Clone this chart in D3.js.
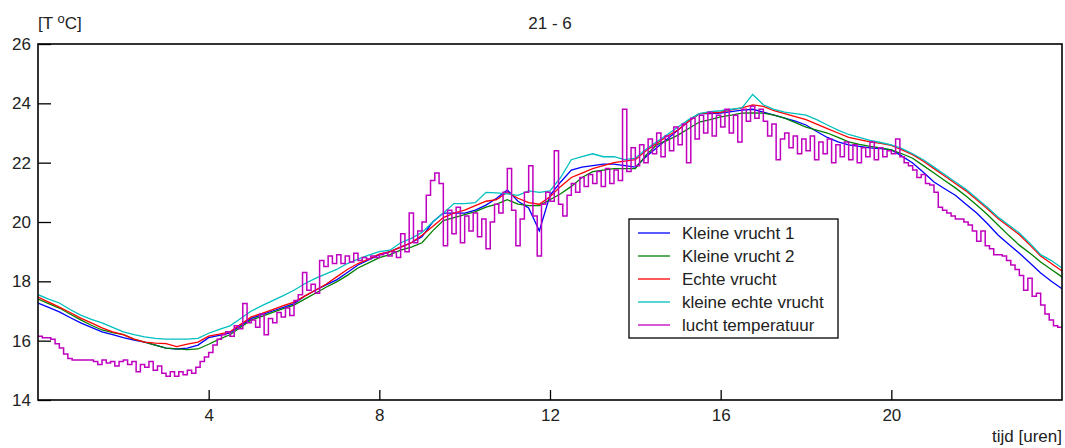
<!DOCTYPE html>
<html>
<head>
<meta charset="utf-8">
<script src="https://cdn.jsdelivr.net/npm/d3@7"></script>
<style>
  body { margin: 0; background: #fff; }
  svg text { font-family: "Liberation Sans", Arial, sans-serif; fill: #222; }
</style>
</head>
<body>
<svg id="chart" width="1065" height="448"></svg>
<script>
// Temperatures per quarter hour (0 .. 24 h)
const kleineVrucht1 = [
  17.27, 17.12, 16.97, 16.78, 16.6, 16.45, 16.3, 16.2, 16.1, 16.02, 15.95, 15.85, 15.75, 15.72, 15.75, 15.85,
  16.1, 16.18, 16.26, 16.5, 16.75, 16.88, 17.0, 17.12, 17.25, 17.5, 17.7, 17.88, 18.05, 18.3, 18.55, 18.72,
  18.9, 19.0, 19.15, 19.3, 19.5, 20.0, 20.3, 20.3, 20.3, 20.4, 20.57, 20.8, 21.08, 20.7, 20.47, 19.7,
  20.9, 21.35, 21.75, 21.85, 21.9, 21.95, 21.95, 21.9, 21.85, 22.2, 22.5, 22.8, 23.1, 23.4, 23.65, 23.65,
  23.67, 23.72, 23.77, 23.8, 23.7, 23.6, 23.5, 23.4, 23.27, 23.05, 22.85, 22.7, 22.6, 22.55, 22.5, 22.47,
  22.43, 22.22, 21.99, 21.68, 21.35, 21.12, 20.9, 20.6, 20.3, 19.95, 19.56, 19.25, 18.95, 18.62, 18.28, 18.0,
  17.75
];
const kleineVrucht2 = [
  17.4, 17.25, 17.1, 16.9, 16.7, 16.52, 16.36, 16.27, 16.2, 16.05, 15.95, 15.85, 15.75, 15.72, 15.7, 15.72,
  15.88, 16.05, 16.2, 16.45, 16.7, 16.82, 16.95, 17.08, 17.2, 17.4, 17.6, 17.8, 17.98, 18.2, 18.45, 18.62,
  18.8, 18.9, 19.05, 19.15, 19.3, 19.7, 20.05, 20.15, 20.25, 20.35, 20.5, 20.6, 20.75, 20.6, 20.55, 20.55,
  20.75, 20.95, 21.2, 21.5, 21.7, 21.75, 21.8, 21.8, 21.8, 22.25, 22.6, 22.75, 22.93, 23.15, 23.37, 23.45,
  23.54, 23.6, 23.67, 23.68, 23.67, 23.6, 23.5, 23.35, 23.2, 23.1, 23.0, 22.85, 22.7, 22.62, 22.55, 22.5,
  22.43, 22.3, 22.15, 21.9, 21.65, 21.4, 21.15, 20.88, 20.57, 20.25, 19.9, 19.55, 19.22, 18.95, 18.65, 18.4,
  18.15
];
const echteVrucht = [
  17.47, 17.3, 17.13, 16.95, 16.76, 16.6, 16.43, 16.3, 16.2, 16.05, 15.95, 15.92, 15.9, 15.8, 15.88, 15.95,
  16.15, 16.22, 16.3, 16.55, 16.8, 16.92, 17.05, 17.18, 17.3, 17.5, 17.7, 17.9, 18.15, 18.4, 18.6, 18.75,
  18.92, 19.0, 19.15, 19.3, 19.55, 19.85, 20.15, 20.3, 20.4, 20.55, 20.7, 20.75, 21.0, 20.8, 20.65, 20.6,
  20.85, 21.2, 21.5, 21.65, 21.8, 21.9, 22.0, 22.05, 22.1, 22.4, 22.65, 22.9, 23.1, 23.4, 23.65, 23.68,
  23.7, 23.78, 23.85, 23.95, 23.9, 23.75, 23.65, 23.55, 23.45, 23.3, 23.15, 23.0, 22.85, 22.78, 22.7, 22.65,
  22.58, 22.43, 22.27, 22.05, 21.8, 21.55, 21.3, 21.05, 20.75, 20.45, 20.12, 19.85, 19.57, 19.22, 18.85, 18.6,
  18.35
];
const kleineEchteVrucht = [
  17.55, 17.4, 17.27, 17.05, 16.86, 16.72, 16.6, 16.45, 16.3, 16.2, 16.13, 16.08, 16.05, 16.05, 16.05, 16.08,
  16.25, 16.38, 16.5, 16.75, 17.0, 17.18, 17.35, 17.52, 17.7, 17.92, 18.1, 18.25, 18.4, 18.6, 18.75, 18.88,
  19.0, 19.05, 19.3, 19.45, 19.65, 20.0, 20.3, 20.62, 20.62, 20.65, 21.0, 20.98, 20.95, 20.9, 21.05, 21.0,
  21.05, 21.5, 22.1, 22.2, 22.3, 22.2, 22.2, 22.1, 22.15, 22.45, 22.7, 22.95, 23.2, 23.45, 23.65, 23.72,
  23.75, 23.8, 23.85, 24.3, 23.95, 23.8, 23.7, 23.65, 23.6, 23.45, 23.27, 23.1, 22.95, 22.85, 22.75, 22.68,
  22.6, 22.47, 22.3, 22.1, 21.85, 21.6, 21.35, 21.1, 20.8, 20.5, 20.17, 19.9, 19.63, 19.28, 18.9, 18.7,
  18.45
];
// Air temperature every 6 minutes (0 .. 24 h)
const luchtTemperatuur = [
  16.15, 16.1, 16.1, 16.05, 15.9, 15.75, 15.55, 15.4, 15.35, 15.35,
  15.35, 15.35, 15.35, 15.3, 15.2, 15.35, 15.25, 15.3, 15.15, 15.3,
  15.35, 15.2, 15.3, 14.95, 15.2, 15.1, 15.3, 15.0, 15.15, 14.9,
  14.8, 14.95, 14.8, 14.95, 14.85, 15.0, 14.9, 15.1, 15.3, 15.45,
  15.6, 15.85, 16.05, 16.2, 16.3, 16.15, 16.5, 16.4, 17.25, 16.6,
  16.7, 16.45, 16.9, 16.2, 16.75, 16.6, 16.95, 16.8, 17.1, 16.85,
  17.35, 17.55, 18.3, 17.7, 17.9, 17.6, 18.7, 18.5, 18.85, 18.6,
  18.9, 18.6, 18.85, 18.65, 18.95, 18.7, 18.8, 18.75, 18.85, 18.8,
  18.9, 18.95, 18.85, 19.0, 18.8, 19.6, 19.0, 20.3, 19.3, 19.7,
  20.0, 20.9, 21.4, 21.65, 21.3, 19.2, 20.4, 19.6, 20.5, 19.3,
  20.2, 19.7, 20.3, 19.5, 20.1, 19.1, 20.0, 20.6, 20.3, 21.0,
  21.8, 20.4, 19.2, 20.1, 21.0, 21.9, 20.2, 18.85, 20.6, 21.0,
  20.7, 22.4, 20.6, 20.2, 20.9, 21.3, 21.0, 21.5, 21.2, 21.6,
  21.3, 21.7, 21.2, 21.8, 21.3, 21.75, 21.4, 23.8, 21.7, 22.5,
  21.9, 22.6, 22.0, 22.8, 22.3, 23.0, 22.2, 22.9, 22.4, 23.2,
  22.6, 23.3, 22.0, 23.5, 22.8, 23.6, 23.0, 23.7, 22.9, 23.6,
  23.2, 23.8, 23.0, 23.6, 22.7, 23.8, 23.4, 23.9, 23.5, 23.8,
  23.4, 22.9, 23.3, 22.1, 22.8, 23.0, 22.5, 22.9, 22.3, 22.8,
  22.4, 22.9, 22.1, 22.7, 22.3, 22.8, 22.0, 22.6, 22.2, 22.7,
  22.1, 22.6, 22.0, 22.5, 22.2, 22.7, 22.1, 22.5, 22.2, 22.4,
  22.3, 22.8, 22.2, 22.0, 21.9, 21.75, 21.5, 21.6, 21.3, 21.25,
  21.0, 20.5, 20.4, 20.3, 20.2, 20.1, 20.1, 20.0, 19.9, 19.7,
  19.35, 19.7, 19.2, 19.1, 18.9, 18.9, 18.85, 18.7, 18.55, 18.4,
  18.2, 17.7, 18.1, 17.5, 17.6, 17.2, 16.9, 16.7, 16.5, 16.45,
  16.4
];

const seriesNames = ["Kleine vrucht 1", "Kleine vrucht 2", "Echte vrucht", "kleine echte vrucht", "lucht temperatuur"];
const seriesColors = ["#0000ff", "#008000", "#ff0000", "#00bfbf", "#bf00bf"];
const xTicks = [4, 8, 12, 16, 20];
const yTicks = [14, 16, 18, 20, 22, 24, 26];

const svg = d3.select("#chart");
const margin = { left: 38, right: 3, top: 44, bottom: 48 };
const width = 1065 - margin.left - margin.right;
const height = 448 - margin.top - margin.bottom;

const x = d3.scaleLinear().domain([0, 24]).range([0, width]);
const y = d3.scaleLinear().domain([14, 26]).range([height, 0]);

const g = svg.append("g").attr("transform", `translate(${margin.left},${margin.top})`);

g.append("clipPath").attr("id", "plot-clip")
  .append("rect").attr("width", width).attr("height", height);

const quarterSeries = [kleineVrucht1, kleineVrucht2, echteVrucht, kleineEchteVrucht];
const line = d3.line().x(d => x(d[0])).y(d => y(d[1]));
// air temperature is held until the next reading -> stairs
const stepLine = d3.line().x(d => x(d[0])).y(d => y(d[1])).curve(d3.curveStepAfter);

const lines = g.append("g").attr("clip-path", "url(#plot-clip)");
quarterSeries.forEach((vals, i) => {
  lines.append("path")
    .datum(vals.map((v, k) => [k * 0.25, v]))
    .attr("d", line)
    .attr("fill", "none")
    .attr("stroke", seriesColors[i])
    .attr("stroke-width", 1.3);
});
lines.append("path")
  .datum(luchtTemperatuur.map((v, k) => [k * 0.1, v]))
  .attr("d", stepLine)
  .attr("fill", "none")
  .attr("stroke", seriesColors[4])
  .attr("stroke-width", 1.5);

// axes, ticks pointing inward
const yAxis = g.append("g")
  .call(d3.axisLeft(y).tickValues(yTicks).tickSize(-13).tickPadding(7).tickFormat(d3.format("d")));
const xAxis = g.append("g")
  .attr("transform", `translate(0,${height})`)
  .call(d3.axisBottom(x).tickValues(xTicks).tickSize(-10).tickPadding(9).tickFormat(d3.format("d")));
[yAxis, xAxis].forEach(a => {
  a.select(".domain").remove();
  a.selectAll("line").attr("stroke", "#000").attr("stroke-width", 1.3);
  a.selectAll("text").style("font-size", "17px").attr("fill", "#222");
});

// frame
g.append("rect")
  .attr("width", width).attr("height", height)
  .attr("fill", "none").attr("stroke", "#000").attr("stroke-width", 1.6);

// titles
svg.append("text").attr("x", 550).attr("y", 29).attr("text-anchor", "middle")
  .style("font-size", "17px").text("21 - 6");
const yl = svg.append("text").attr("x", 38).attr("y", 29).style("font-size", "17px");
yl.append("tspan").text("[T ");
yl.append("tspan").attr("dy", -6).style("font-size", "13px").text("o");
yl.append("tspan").attr("dy", 6).text("C]");
svg.append("text").attr("x", 1062).attr("y", 442).attr("text-anchor", "end")
  .style("font-size", "17px").text("tijd [uren]");

// legend
const legend = svg.append("g").attr("transform", "translate(629,219)");
legend.append("rect").attr("width", 209).attr("height", 119)
  .attr("fill", "#fff").attr("stroke", "#000").attr("stroke-width", 1.3);
seriesNames.forEach((name, i) => {
  const row = legend.append("g").attr("transform", `translate(0,${14 + i * 23})`);
  row.append("line").attr("x1", 9).attr("x2", 41)
    .attr("stroke", seriesColors[i]).attr("stroke-width", 1.3);
  row.append("text").attr("x", 53).attr("dy", "0.36em")
    .style("font-size", "17px").text(name);
});
</script>
</body>
</html>
